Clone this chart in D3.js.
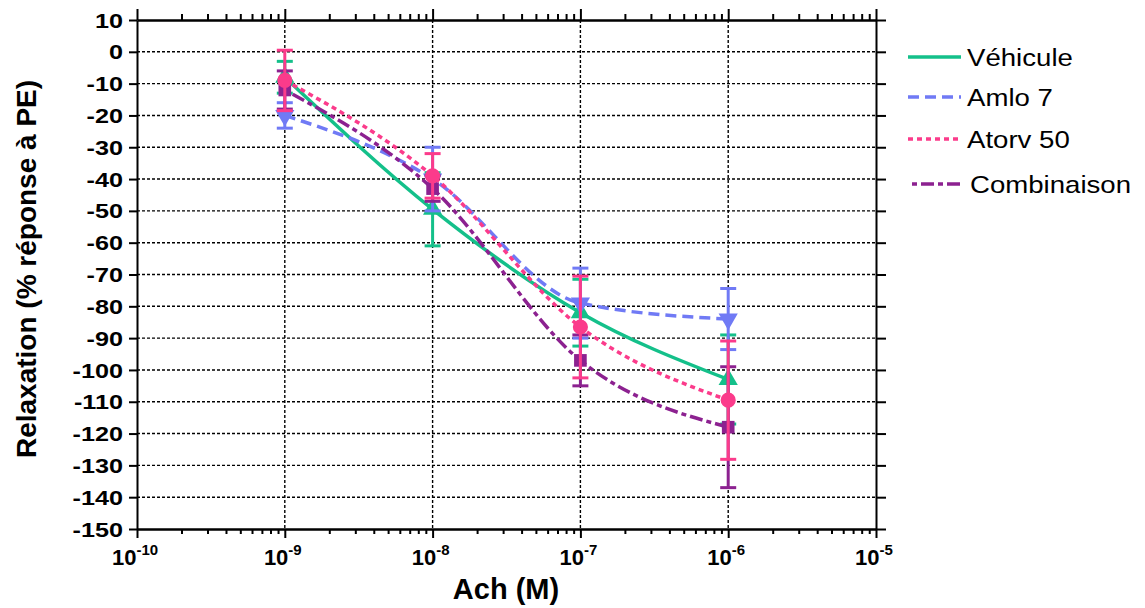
<!DOCTYPE html>
<html>
<head>
<meta charset="utf-8">
<script src="https://cdn.jsdelivr.net/npm/d3@7"></script>
<style>
  body { margin: 0; background: #fff; }
  text { font-family: "Liberation Sans", Arial, sans-serif; }
</style>
</head>
<body>
<svg id="chart" width="1145" height="608"></svg>
<script>
'use strict';

// concentrations (M)
const concentrations = [1e-9, 1e-8, 1e-7, 1e-6];

// mean relaxation and error per group
const vehiculeMean = [-8, -49.5, -82, -103];
const vehiculeErr = [5, 11.5, 10.5, 14];
const amloMean = [-20, -40, -79, -84];
const amloErr = [4, 10, 11, 9.6];
const atorvMean = [-9, -39, -86.5, -109.5];
const atorvErr = [9.5, 7, 16, 18.6];
const combiMean = [-12, -43, -97, -118];
const combiErr = [6, 4, 8, 19];

const seriesNames = ['Véhicule', 'Amlo 7', 'Atorv 50', 'Combinaison'];
const yTicks = d3.range(10, -151, -10);
const xDecades = [-10, -9, -8, -7, -6, -5];

const series = [
  { name: seriesNames[0], mean: vehiculeMean, err: vehiculeErr, color: '#14c08a', dash: null, symbol: d3.symbolTriangle, rot: 0 },
  { name: seriesNames[1], mean: amloMean, err: amloErr, color: '#707af5', dash: '11,6', symbol: d3.symbolTriangle, rot: 180 },
  { name: seriesNames[3], mean: combiMean, err: combiErr, color: '#8c2190', dash: '5,4,13,4', symbol: d3.symbolSquare, rot: 0 },
  { name: seriesNames[2], mean: atorvMean, err: atorvErr, color: '#fb3b8b', dash: '5,4', symbol: d3.symbolCircle, rot: 0 }
];

const svg = d3.select('#chart');
const plotLeft = 137, plotRight = 876, plotTop = 20, plotBottom = 529;

const x = d3.scaleLog().domain([1e-10, 1e-5]).range([plotLeft, plotRight]);
const y = d3.scaleLinear().domain([-150, 10]).range([plotBottom, plotTop]);

// grid
const grid = svg.append('g');
grid.selectAll('line.gy')
  .data(yTicks.filter(v => v < 10 && v > -150))
  .enter().append('line')
    .attr('x1', plotLeft).attr('x2', plotRight)
    .attr('y1', d => y(d)).attr('y2', d => y(d))
    .attr('stroke', '#000').attr('stroke-width', 1.4).attr('stroke-dasharray', '3,2');
grid.selectAll('line.gx')
  .data(concentrations)
  .enter().append('line')
    .attr('x1', d => x(d)).attr('x2', d => x(d))
    .attr('y1', plotTop).attr('y2', plotBottom)
    .attr('stroke', '#000').attr('stroke-width', 1.4).attr('stroke-dasharray', '3,2');

// minor / major ticks for log axes
const majors = xDecades.map(e => Math.pow(10, e));
const minors = [];
xDecades.slice(0, -1).forEach(e => {
  for (let k = 2; k <= 9; k++) minors.push(k * Math.pow(10, e));
});

const styleAxis = g => {
  g.select('.domain').attr('stroke-width', 2);
  g.selectAll('.tick line').attr('stroke-width', 2);
  g.selectAll('.tick text').remove();
};

svg.append('g').attr('transform', `translate(0,${plotBottom})`)
  .call(d3.axisBottom(x).tickValues(majors).tickSize(9).tickSizeOuter(0)).call(styleAxis);
svg.append('g').attr('transform', `translate(0,${plotBottom})`)
  .call(d3.axisBottom(x).tickValues(minors).tickSize(5).tickSizeOuter(0)).call(styleAxis);
svg.append('g').attr('transform', `translate(0,${plotTop})`)
  .call(d3.axisTop(x).tickValues(majors).tickSize(11).tickSizeOuter(0)).call(styleAxis);
svg.append('g').attr('transform', `translate(0,${plotTop})`)
  .call(d3.axisTop(x).tickValues(minors).tickSize(6).tickSizeOuter(0)).call(styleAxis);

svg.append('g').attr('transform', `translate(${plotLeft},0)`)
  .call(d3.axisLeft(y).tickValues(yTicks).tickSize(8).tickSizeOuter(0)).call(styleAxis);
svg.append('g').attr('transform', `translate(${plotRight},0)`)
  .call(d3.axisRight(y).tickValues(yTicks).tickSize(10).tickSizeOuter(0)).call(styleAxis);

// y tick labels (wide bold digits)
svg.append('g').selectAll('text')
  .data(yTicks)
  .enter().append('text')
    .attr('transform', d => `translate(${plotLeft - 14},${y(d)}) scale(1.2,1)`)
    .attr('dy', '0.36em')
    .attr('text-anchor', 'end')
    .attr('font-size', 21)
    .attr('font-weight', 'bold')
    .text(d => d);

// x tick labels 10^n
const xl = svg.append('g').selectAll('text')
  .data(xDecades)
  .enter().append('text')
    .attr('x', d => x(Math.pow(10, d)) - 2)
    .attr('y', plotBottom + 36)
    .attr('text-anchor', 'middle')
    .attr('font-size', 22)
    .attr('font-weight', 'bold');
xl.append('tspan').text('10');
xl.append('tspan').attr('dy', -10).attr('font-size', 15).text(d => d);

// axis titles
svg.append('text')
  .attr('x', 506).attr('y', 599)
  .attr('text-anchor', 'middle')
  .attr('font-size', 29).attr('font-weight', 'bold')
  .text('Ach (M)');
svg.append('text')
  .attr('transform', 'translate(36,269) rotate(-90)')
  .attr('text-anchor', 'middle')
  .attr('font-size', 28).attr('font-weight', 'bold')
  .text('Relaxation (% réponse à PE)');

// series
const line = d3.line()
  .x((d, i) => x(concentrations[i]))
  .y(d => y(d))
  .curve(d3.curveMonotoneX);

const plot = svg.append('g');
series.forEach(s => {
  const g = plot.append('g');
  g.append('path')
    .attr('d', line(s.mean))
    .attr('fill', 'none')
    .attr('stroke', s.color)
    .attr('stroke-width', 3.5)
    .attr('stroke-dasharray', s.dash);
  const eb = g.selectAll('g.eb')
    .data(s.mean.map((m, i) => ({ m, e: s.err[i], c: concentrations[i] })))
    .enter().append('g');
  eb.append('line')
    .attr('x1', d => x(d.c)).attr('x2', d => x(d.c))
    .attr('y1', d => y(d.m + d.e)).attr('y2', d => y(d.m - d.e))
    .attr('stroke', s.color).attr('stroke-width', 3);
  [1, -1].forEach(sign => {
    eb.append('line')
      .attr('x1', d => x(d.c) - 8).attr('x2', d => x(d.c) + 8)
      .attr('y1', d => y(d.m + sign * d.e)).attr('y2', d => y(d.m + sign * d.e))
      .attr('stroke', s.color).attr('stroke-width', 3);
  });
  eb.append('path')
    .attr('d', d3.symbol().type(s.symbol).size(s.symbol === d3.symbolCircle ? 180 : 160))
    .attr('transform', d => `translate(${x(d.c)},${y(d.m)}) rotate(${s.rot})`)
    .attr('fill', s.color);
});

// legend
const legendOrder = [series[0], series[1], series[3], series[2]];
const legendY = [57, 97, 139, 184];
const legend = svg.append('g');
legendOrder.forEach((s, i) => {
  const x0 = i === 3 ? 912 : 908;
  legend.append('line')
    .attr('x1', x0).attr('x2', 961)
    .attr('y1', legendY[i]).attr('y2', legendY[i])
    .attr('stroke', s.color).attr('stroke-width', 3.5)
    .attr('stroke-dasharray', s.dash);
  legend.append('text')
    .attr('transform', `translate(${i === 3 ? 970 : 967},${legendY[i]}) scale(1.15,1)`)
    .attr('dy', '0.36em')
    .attr('font-size', 24)
    .text(s.name);
});
</script>
</body>
</html>
